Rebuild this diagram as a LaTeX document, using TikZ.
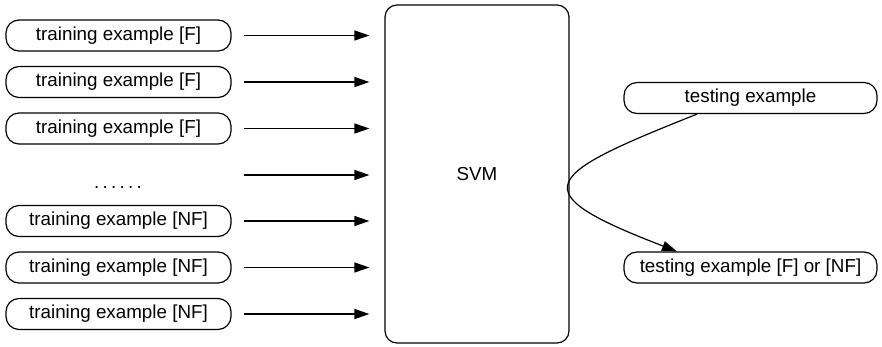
\documentclass[tikz,border=0pt]{standalone}
\usepackage{fontspec}
\setmainfont{Liberation Sans}
\usetikzlibrary{arrows.meta,calc}
\begin{document}
\begin{tikzpicture}[x=1pt,y=-1pt,
  pill/.style={draw,line width=1.2pt,rounded corners=13pt,minimum height=31pt,inner sep=0pt,font=\fontsize{18.8}{20}\selectfont},
  trainbox/.style={pill,minimum width=225pt},
  testbox/.style={pill,minimum width=253pt},
  arr/.style={line width=1.2pt,-{Triangle[length=15pt,width=10pt]}},
  feed/.style={arr,shorten <=12pt,shorten >=15pt}]
\useasboundingbox (0,0) rectangle (882,346);
\node[draw,line width=1.2pt,rounded corners=12pt,minimum width=184pt,minimum height=338pt,inner sep=0pt,font=\fontsize{18.8}{20}\selectfont] (svm) at (477,174) {SVM};
\node[trainbox] (b1) at (118.5,35.5) {training example [F]};
\node[trainbox] (b2) at (118.5,82) {training example [F]};
\node[trainbox] (b3) at (118.5,128.5) {training example [F]};
\node[font=\fontsize{18.8}{20}\selectfont,inner sep=0pt,anchor=base] (dots) at (118,188) {.\hspace{3.3pt}.\hspace{3.3pt}.\hspace{3.3pt}.\hspace{3.3pt}.\hspace{3.3pt}.};
\node[trainbox] (b4) at (118.5,221) {training example [NF]};
\node[trainbox] (b5) at (118.5,267.5) {training example [NF]};
\node[trainbox] (b6) at (118.5,314) {training example [NF]};
\foreach \b in {b1,b2,b3,b4,b5,b6}
  \draw[feed] (\b.east) -- (\b.east -| svm.west);
\coordinate (dl) at (b1.east |- 0,175);
\draw[feed] (dl) -- (dl -| svm.west);
\node[testbox] (te) at (750.5,98) {testing example};
\node[testbox] (tr) at (750.5,267.5) {testing example [F] or [NF]};
\coordinate (cs) at ($(te.south)+(-53.5,0)$);
\coordinate (ce) at ($(tr.north)+(-73.5,0)$);
\draw[arr] (cs) .. controls +(-156,62) and +(-156,-60) .. (ce);
\end{tikzpicture}
\end{document}
